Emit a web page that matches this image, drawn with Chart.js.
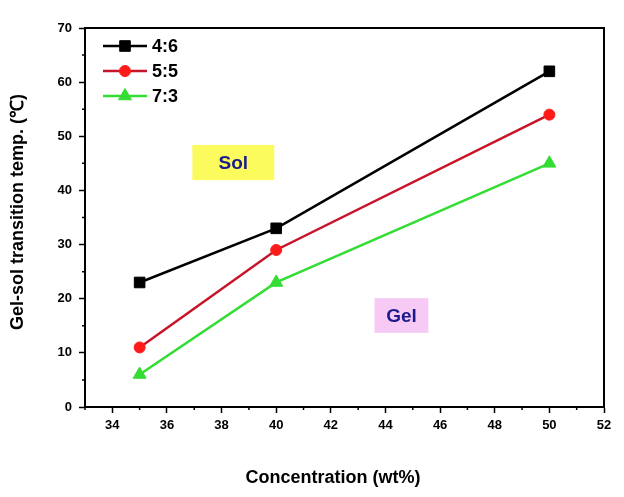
<!DOCTYPE html>
<html>
<head>
<meta charset="utf-8">
<script src="https://cdn.jsdelivr.net/npm/chart.js@4/dist/chart.umd.min.js"></script>
<style>
  html, body { margin: 0; padding: 0; background: #fff; }
  #wrap { width: 624px; height: 497px; position: relative; }
</style>
</head>
<body>
<div id="wrap"><canvas id="gel"></canvas></div>
<script>
// data
const concentration = [35, 40, 50];
const temp46 = [23, 33, 62];
const temp55 = [11, 29, 54];
const temp73 = [6, 23, 45];
const seriesNames = ['4:6', '5:5', '7:3'];
const xTickValues = [34, 36, 38, 40, 42, 44, 46, 48, 50, 52];
const yTickValues = [0, 10, 20, 30, 40, 50, 60, 70];
const phaseLabels = ['Sol', 'Gel'];

const FONT = "'Liberation Sans', Arial, sans-serif";

function pts(ys) {
  return concentration.map((x, i) => ({ x: x, y: ys[i] }));
}

// phase boxes, in data units
const phaseBoxes = [
  { text: phaseLabels[0], x0: 36.93, x1: 39.93, y0: 41.9, y1: 48.4, fill: '#fbfb5e' },
  { text: phaseLabels[1], x0: 43.6, x1: 45.57, y0: 13.7, y1: 20.1, fill: '#f7c9f5' }
];

const decor = {
  id: 'decor',
  beforeDatasetsDraw(chart) {
    const { ctx, scales: { x, y } } = chart;
    ctx.save();
    phaseBoxes.forEach(b => {
      const l = x.getPixelForValue(b.x0), r = x.getPixelForValue(b.x1);
      const t = y.getPixelForValue(b.y1), bt = y.getPixelForValue(b.y0);
      ctx.fillStyle = b.fill;
      ctx.fillRect(l, t, r - l, bt - t);
      ctx.fillStyle = '#1b1b8e';
      ctx.font = 'bold 19px ' + FONT;
      ctx.textAlign = 'center';
      ctx.textBaseline = 'middle';
      ctx.fillText(b.text, (l + r) / 2, (t + bt) / 2 + 1);
    });
    ctx.restore();
  },
  afterDraw(chart) {
    const { ctx, chartArea: a, scales: { x, y } } = chart;
    ctx.save();
    // frame
    ctx.strokeStyle = '#000';
    ctx.lineWidth = 2;
    ctx.strokeRect(a.left, a.top, a.right - a.left, a.bottom - a.top);

    // minor ticks
    ctx.lineWidth = 1.5;
    ctx.beginPath();
    for (let v = 33; v <= 51; v += 2) {
      const px = x.getPixelForValue(v);
      ctx.moveTo(px, a.bottom);
      ctx.lineTo(px, a.bottom + 3);
    }
    for (let v = 5; v <= 65; v += 10) {
      const py = y.getPixelForValue(v);
      ctx.moveTo(a.left, py);
      ctx.lineTo(a.left - 3, py);
    }
    ctx.stroke();

    // axis titles
    ctx.fillStyle = '#000';
    ctx.font = 'bold 18px ' + FONT;
    ctx.textAlign = 'center';
    ctx.textBaseline = 'middle';
    ctx.fillText('Concentration (wt%)', 333, 478);
    ctx.save();
    ctx.translate(18, 212);
    ctx.rotate(-Math.PI / 2);
    ctx.fillText('Gel-sol transition temp. (\u2103)', 0, 0);
    ctx.restore();

    // legend
    chart.data.datasets.forEach((ds, i) => {
      const ly = 46 + i * 25;
      ctx.strokeStyle = ds.borderColor;
      ctx.lineWidth = 2.5;
      ctx.beginPath();
      ctx.moveTo(103, ly);
      ctx.lineTo(147, ly);
      ctx.stroke();
      ctx.fillStyle = ds.pointBackgroundColor;
      ctx.strokeStyle = ds.pointBackgroundColor;
      ctx.lineWidth = 1;
      Chart.helpers.drawPoint(ctx, { pointStyle: ds.pointStyle, radius: ds.pointRadius, rotation: 0, borderWidth: 1 }, 125, ly);
      ctx.fillStyle = '#000';
      ctx.font = 'bold 18px ' + FONT;
      ctx.textAlign = 'left';
      ctx.fillText(ds.label, 152, ly + 1);
    });
    ctx.restore();
  }
};

new Chart(document.getElementById('gel'), {
  type: 'line',
  data: {
    datasets: [{
      label: seriesNames[0],
      data: pts(temp46),
      borderColor: '#000000',
      pointBackgroundColor: '#000000',
      pointBorderColor: '#000000',
      pointStyle: 'rect',
      pointRadius: 7.5
    }, {
      label: seriesNames[1],
      data: pts(temp55),
      borderColor: '#c81428',
      pointBackgroundColor: '#ff1a1a',
      pointBorderColor: '#ff1a1a',
      pointStyle: 'circle',
      pointRadius: 5.5
    }, {
      label: seriesNames[2],
      data: pts(temp73),
      borderColor: '#33dd33',
      pointBackgroundColor: '#33dd33',
      pointBorderColor: '#33dd33',
      pointStyle: 'triangle',
      pointRadius: 7.5
    }]
  },
  options: {
    responsive: true,
    maintainAspectRatio: false,
    animation: false,
    layout: { padding: { top: 28, right: 20, left: 0, bottom: 0 } },
    elements: { line: { borderWidth: 2.5, tension: 0 }, point: { borderWidth: 1 } },
    plugins: { legend: { display: false }, tooltip: { enabled: false } },
    scales: {
      x: {
        type: 'linear',
        min: 33,
        max: 52,
        afterBuildTicks(scale) { scale.ticks = xTickValues.map(v => ({ value: v })); },
        afterFit(scale) { scale.height = 90; },
        border: { display: true, color: '#000', width: 2 },
        grid: { drawOnChartArea: false, tickLength: 6, tickWidth: 1.5, tickColor: '#000' },
        ticks: { color: '#000', font: { family: FONT, size: 13, weight: 'bold' }, padding: 5, maxRotation: 0 }
      },
      y: {
        min: 0,
        max: 70,
        afterBuildTicks(scale) { scale.ticks = yTickValues.map(v => ({ value: v })); },
        afterFit(scale) { scale.width = 85; },
        border: { display: true, color: '#000', width: 2 },
        grid: { drawOnChartArea: false, tickLength: 6, tickWidth: 1.5, tickColor: '#000' },
        ticks: { color: '#000', font: { family: FONT, size: 13, weight: 'bold' }, padding: 7 }
      }
    }
  },
  plugins: [decor]
});
</script>
</body>
</html>
